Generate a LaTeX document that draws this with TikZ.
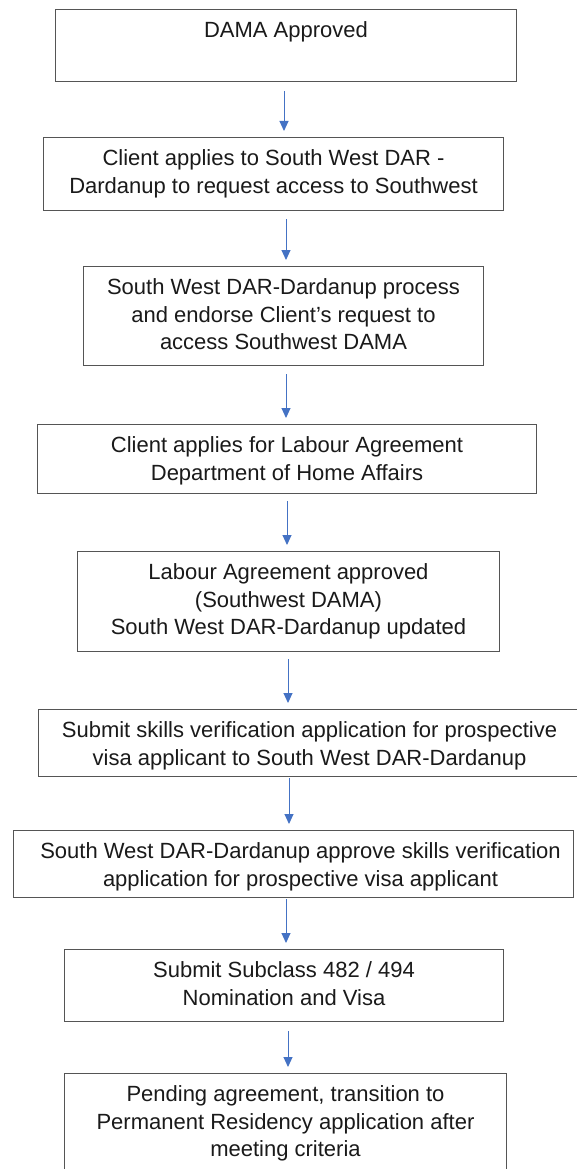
\documentclass[tikz,border=0pt]{standalone}
\usepackage{fontspec}
\setmainfont{Liberation Sans}
\usetikzlibrary{arrows.meta,calc}
\definecolor{flowblue}{HTML}{4472C4}
\definecolor{boxline}{HTML}{555555}
\definecolor{boxtext}{HTML}{1A1A1A}
% box content: width, height, text set from the top
\newcommand\steptext[3]{\parbox[c][#2][t]{#1}{\centering\fontsize{22}{27.5}\selectfont
  \vspace*{9pt}\strut#3\strut\par}}
\begin{document}
\begin{tikzpicture}[x=1pt,y=-1pt,
  stepbox/.style={draw=boxline,line width=1pt,fill=white,inner sep=0pt,
    anchor=north west,text=boxtext},
  flow/.style={draw=flowblue,line width=1pt,
    -{Triangle[width=9pt,length=10pt]}}]
\useasboundingbox[fill=white] (0,0) rectangle (576,1169);

\node[stepbox] (b1) at (55,9)   {\steptext{461pt}{72pt}{\vspace*{1pt}DAMA Approved}};
\node[stepbox] (b2) at (43,137) {\steptext{460pt}{73pt}{Client applies to South West DAR -\\Dardanup to request access to Southwest}};
\node[stepbox] (b3) at (83,266) {\steptext{400pt}{99pt}{South West DAR-Dardanup process\\and endorse Client’s request to\\access Southwest DAMA}};
\node[stepbox] (b4) at (37,424) {\steptext{499pt}{69pt}{Client applies for Labour Agreement\\Department of Home Affairs}};
\node[stepbox] (b5) at (77,551) {\steptext{422pt}{100pt}{Labour Agreement approved\\(Southwest DAMA)\\South West DAR-Dardanup updated}};
\node[stepbox] (b6) at (38,709) {\steptext{542pt}{67pt}{Submit skills verification application for prospective\\visa applicant to South West DAR-Dardanup}};
\node[stepbox] (b7) at (13,830) {\steptext{560pt}{67pt}{\hspace*{14pt}South West DAR-Dardanup approve skills verification\\\hspace*{14pt}application for prospective visa applicant}};
\node[stepbox] (b8) at (64,949) {\steptext{439pt}{72pt}{Submit Subclass 482 / 494\\Nomination and Visa}};
\node[stepbox] (b9) at (64,1073) {\steptext{442pt}{106pt}{Pending agreement, transition to\\Permanent Residency application after\\meeting criteria}};

\draw[flow] ($(284,0 |- b1.south)+(0,9)$) -- ($(284,0 |- b2.north)+(0,-6)$);
\draw[flow] ($(286,0 |- b2.south)+(0,8)$) -- ($(286,0 |- b3.north)+(0,-6)$);
\draw[flow] ($(286,0 |- b3.south)+(0,8)$) -- ($(286,0 |- b4.north)+(0,-6)$);
\draw[flow] ($(287,0 |- b4.south)+(0,7)$) -- ($(287,0 |- b5.north)+(0,-6)$);
\draw[flow] ($(288,0 |- b5.south)+(0,7)$) -- ($(288,0 |- b6.north)+(0,-6)$);
\draw[flow] ($(289,0 |- b6.south)+(0,1)$) -- ($(289,0 |- b7.north)+(0,-6)$);
\draw[flow] ($(286,0 |- b7.south)+(0,1)$) -- ($(286,0 |- b8.north)+(0,-6)$);
\draw[flow] ($(288,0 |- b8.south)+(0,9)$) -- ($(288,0 |- b9.north)+(0,-6)$);
\end{tikzpicture}
\end{document}
